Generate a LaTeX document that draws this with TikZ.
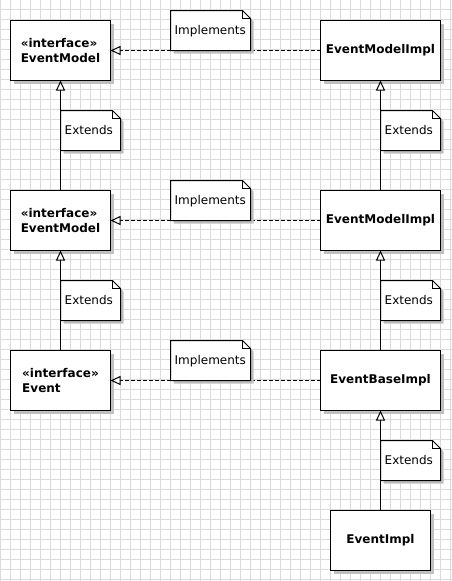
\documentclass[tikz,border=0pt]{standalone}
\usepackage{fontspec}
\setmainfont{DejaVu Sans}
\usetikzlibrary{arrows.meta,shadows}
\definecolor{gridc}{RGB}{218,218,218}
\definecolor{shadowc}{RGB}{192,192,192}
\tikzset{
  gridline/.style={draw=gridc, line width=1pt},
  umlbox/.style={draw=black, line width=1pt, fill=white, anchor=north west,
    minimum height=60pt, inner sep=0pt, outer sep=0pt,
    font=\fontsize{12}{15}\selectfont\bfseries,
    drop shadow={shadow xshift=3pt, shadow yshift=-3pt, fill=shadowc, opacity=1}},
  notetext/.style={anchor=base west, inner sep=0pt, font=\fontsize{12}{15}\selectfont},
  notebody/.style={draw=black, line width=1pt, fill=white, line join=miter},
  realize/.style={draw=black, line width=1pt, dash pattern=on 4pt off 2pt,
    -{Triangle[length=10pt, width=9pt, fill=white, line join=miter]}},
  gen/.style={draw=black, line width=1pt,
    -{Triangle[length=10pt, width=9pt, fill=white, line join=miter]}},
}
\newcommand{\umlnote}[5]{% name, left x, top y, width, text
  \fill[shadowc] (#2+3,#3+3) -- (#2+#4-8+3,#3+3) -- (#2+#4+3,#3+8+3) -- (#2+#4+3,#3+43) -- (#2+3,#3+43) -- cycle;
  \path[notebody] (#2,#3) -- (#2+#4-8,#3) -- (#2+#4,#3+8) -- (#2+#4,#3+40) -- (#2,#3+40) -- cycle;
  \draw[black, line width=1pt] (#2+#4-8,#3) -- (#2+#4-8,#3+8) -- (#2+#4,#3+8);
  \node[notetext] (#1) at (#2+4,#3+24) {#5};
}
\begin{document}
\begin{tikzpicture}[x=1pt,y=-1pt]
\useasboundingbox (0,0) rectangle (452,581);
\fill[white] (0,0) rectangle (452,581);
% grid
\foreach \gx in {0,10,...,450} \draw[gridline] (\gx+0.5,0) -- (\gx+0.5,581);
\foreach \gy in {10,20,...,580} \draw[gridline] (0,\gy-0.5) -- (452,\gy-0.5);
\begin{scope}[xshift=0.5pt, yshift=-0.5pt]
% classes
\node[umlbox, minimum width=100pt, align=left] (a1) at (10,20) {«interface»\\EventModel};
\node[umlbox, minimum width=100pt, align=left] (a2) at (10,190) {«interface»\\EventModel};
\node[umlbox, minimum width=100pt, align=left] (a3) at (10,350) {«interface»\\Event};
\node[umlbox, minimum width=120pt] (b1) at (320,20) {EventModelImpl};
\node[umlbox, minimum width=120pt] (b2) at (320,190) {EventModelImpl};
\node[umlbox, minimum width=120pt] (b3) at (320,350) {EventBaseImpl};
\node[umlbox, minimum width=100pt] (b4) at (330,510) {EventImpl};
% connectors
\draw[realize] (b1.west) -- (a1.east);
\draw[realize] (b2.west) -- (a2.east);
\draw[realize] (b3.west) -- (a3.east);
\draw[gen] (a2.north) -- (a1.south);
\draw[gen] (a3.north) -- (a2.south);
\draw[gen] (b2.north) -- (b1.south);
\draw[gen] (b3.north) -- (b2.south);
\draw[gen] (b4.north) -- (b3.south);
% notes
\umlnote{n1}{170}{10}{80}{Implements}
\umlnote{n2}{170}{180}{80}{Implements}
\umlnote{n3}{170}{340}{80}{Implements}
\umlnote{e1}{60}{110}{60}{Extends}
\umlnote{e2}{60}{280}{60}{Extends}
\umlnote{e3}{380}{110}{60}{Extends}
\umlnote{e4}{380}{280}{60}{Extends}
\umlnote{e5}{380}{440}{60}{Extends}
\end{scope}
\end{tikzpicture}
\end{document}
